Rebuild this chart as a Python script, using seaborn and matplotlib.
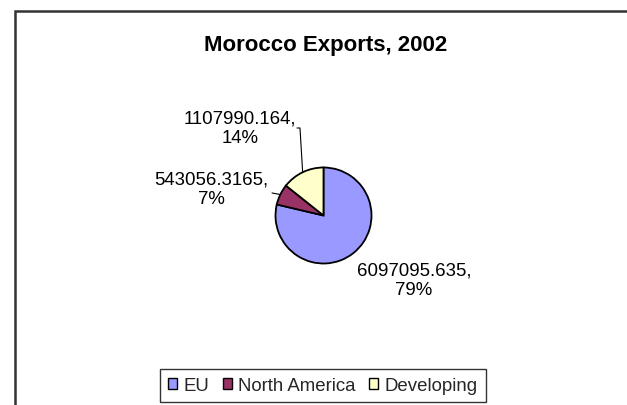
import numpy as np
import matplotlib
matplotlib.use("Agg")
import matplotlib.pyplot as plt
import matplotlib.patches as mpatches
import seaborn as sns

# ---- data ----
categories = ["EU", "North America", "Developing"]
values = [6097095.635, 543056.3165, 1107990.164]
value_labels = ["6097095.635", "543056.3165", "1107990.164"]
colors = ["#9999FF", "#993366", "#FFFFCC"]
title = "Morocco Exports, 2002"

sns.set_theme(style="white")
plt.rcParams["font.family"] = ["Liberation Sans", "DejaVu Sans"]
palette = sns.color_palette(colors)

W, H = 627, 406
fig = plt.figure(figsize=(W / 100, H / 100), dpi=100)
fig.patch.set_facecolor("white")

# pie geometry (pixels)
cx, cy, r = 323.5, 216.5, 48.0
ax = fig.add_axes([0, 0, 1, 1])

wedges, _ = ax.pie(values, colors=palette, startangle=90, counterclock=False,
                   radius=1.0, center=(0, 0),
                   wedgeprops=dict(edgecolor="black", linewidth=1.3))
ax.set_xlim(-cx / r, (W - cx) / r)
ax.set_ylim(-(H - cy) / r, cy / r)
ax.set_aspect("equal")
ax.axis("off")

total = sum(values)
pcts = [round(v / total * 100) for v in values]
texts = [f"{lab},\n{p}%" for lab, p in zip(value_labels, pcts)]

# label positions (layout, in pie-radius units)
label_pos = [(1.885, -1.344), (-2.34, 0.55), (-1.74, 1.833)]
fs = 13.4
for i, (t, (lx, ly)) in enumerate(zip(texts, label_pos)):
    ax.text(lx, ly, t, ha="center", va="center", fontsize=fs,
            color="black", linespacing=1.2)

# leader lines to wedge mid-angles
def edge_point(w):
    ang = np.deg2rad((w.theta1 + w.theta2) / 2)
    return np.cos(ang), np.sin(ang)

# North America
ex, ey = edge_point(wedges[1])
ax.plot([-1.073, ex], [0.469, ey], color="black", lw=0.8)
# Developing
ex, ey = edge_point(wedges[2])
ax.plot([-0.552, -0.49, ex], [1.823, 1.823, ey], color="black", lw=0.8)

# outer frame (cut off on right/bottom)
frame = mpatches.Rectangle((15 / W, -0.1), 1.2, (H - 12) / H + 0.1,
                           transform=fig.transFigure, fill=False,
                           edgecolor="#333333", linewidth=1.8)
fig.patches.append(frame)

fig.text(326 / W, 1 - 45 / H, title, ha="center", va="center",
         fontsize=16, fontweight="bold", color="black")

handles = [mpatches.Patch(facecolor=c, edgecolor="black", linewidth=1.0)
           for c in palette]
leg = fig.legend(handles, categories, ncol=3, loc="center",
                 bbox_to_anchor=((163 + 483) / 2 / W, 1 - (369 + 404) / 2 / H),
                 frameon=True, fancybox=False, fontsize=fs,
                 handlelength=0.5, handleheight=0.5, handletextpad=0.35,
                 columnspacing=0.7, borderpad=0.45, borderaxespad=0)
leg.get_frame().set_edgecolor("black")
leg.get_frame().set_linewidth(1.0)

fig.savefig("out.png", dpi=100, facecolor="white")
